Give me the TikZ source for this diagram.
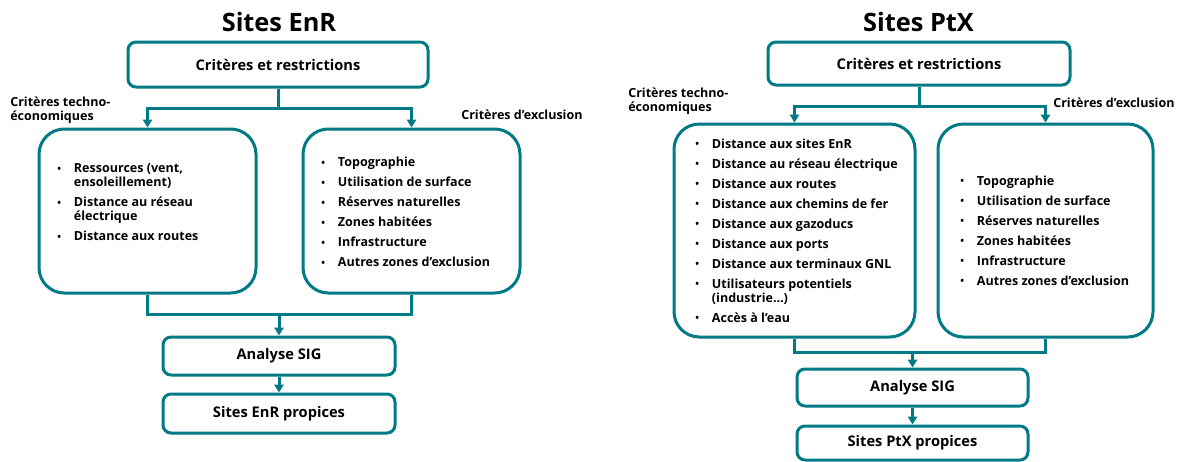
\documentclass[tikz,border=0pt]{standalone}
\usepackage{fontspec}
\setmainfont{Open Sans}
\usetikzlibrary{arrows.meta,positioning,calc}
\definecolor{tealline}{RGB}{0,122,132}
\newcommand*{\bul}{\makebox[12.5pt][l]{\raisebox{0.3pt}{\fontsize{7.5}{7.5}\selectfont\textbullet}}}
\newcommand*{\nobul}{\hphantom{\bul}}

\begin{document}
\begin{tikzpicture}[
  x=0.75pt, y=-0.75pt,
  box/.style={draw=tealline, line width=2.25pt, rounded corners=6pt, font=\bfseries\fontsize{11}{13}\selectfont},
  big/.style={draw=tealline, line width=2.25pt, rounded corners=19pt},
  lst/.style={anchor=west, align=left, inner sep=0pt, font=\bfseries\fontsize{9.4}{10.5}\selectfont},
  lab/.style={lst},
  ttl/.style={inner sep=0pt, font=\bfseries\fontsize{19}{22}\selectfont},
  line/.style={draw=tealline, line width=2.25pt},
  arr/.style={line, -{Triangle[length=6pt,width=7pt]}},
]
\useasboundingbox (0,0) rectangle (1180,461);

% Sites EnR
\node[ttl] (ttlA) at (279,22) {Sites EnR};
\node[box, minimum width=225pt, minimum height=33.75pt] (critA) at (278,64.5) {Critères et restrictions};
\node[big, minimum width=162.75pt, minimum height=123pt] (techA) at (147.5,211) {};
\node[big, minimum width=162.75pt, minimum height=123pt] (exclA) at (411.5,211) {};
\node[box, minimum width=174pt, minimum height=28.5pt] (sigA) at (279,356) {Analyse SIG};
\node[box, minimum width=174pt, minimum height=29.25pt] (propA) at (279,413.5) {Sites EnR propices};

\node[lab] (labTA) at (10,110) {Critères techno-\\économiques};
\node[lab] (labEA) at (461,115) {Critères d’exclusion};

\node[lst] (lstTA) at (57,202) {\bul Ressources (vent,\\\nobul ensoleillement)\\[4.5pt]
  \bul Distance au réseau\\\nobul électrique\\[4.5pt]
  \bul Distance aux routes};
\node[lst] (lstEA) at (321,212) {\bul Topographie\\[4.5pt]
  \bul Utilisation de surface\\[4.5pt]
  \bul Réserves naturelles\\[4.5pt]
  \bul Zones habitées\\[4.5pt]
  \bul Infrastructure\\[4.5pt]
  \bul Autres zones d’exclusion};

\coordinate (jA) at (278,108);
\coordinate (kA) at (279,314);
\draw[line] (critA) -- (jA);
\draw[arr] (jA) -| (techA);
\draw[arr] (jA) -| (exclA);
\draw[line] (techA) |- (kA) -| (exclA);
\draw[arr] (kA) -- (sigA);
\draw[arr] (sigA) -- (propA);

% Sites PtX
\node[ttl] (ttlB) at (918.5,22) {Sites PtX};
\node[box, minimum width=226.5pt, minimum height=32.25pt] (critB) at (919,63.5) {Critères et restrictions};
\node[big, minimum width=180.75pt, minimum height=159.75pt] (techB) at (794.5,230.5) {};
\node[big, minimum width=161.25pt, minimum height=159.75pt] (exclB) at (1045.5,230.5) {};
\node[box, minimum width=173.25pt, minimum height=27.75pt] (sigB) at (912.5,387.5) {Analyse SIG};
\node[box, minimum width=173.25pt, minimum height=25.5pt] (propB) at (912.5,443) {Sites PtX propices};

\node[lab] (labTB) at (628,101.5) {Critères techno-\\économiques};
\node[lab] (labEB) at (1053,103) {Critères d’exclusion};

\node[lst] (lstTB) at (695,230.5) {\bul Distance aux sites EnR\\[4.5pt]
  \bul Distance au réseau électrique\\[4.5pt]
  \bul Distance aux routes\\[4.5pt]
  \bul Distance aux chemins de fer\\[4.5pt]
  \bul Distance aux gazoducs\\[4.5pt]
  \bul Distance aux ports\\[4.5pt]
  \bul Distance aux terminaux GNL\\[4.5pt]
  \bul Utilisateurs potentiels\\\nobul (industrie…)\\[4.5pt]
  \bul Accès à l’eau};
\node[lst] (lstEB) at (960,230.5) {\bul Topographie\\[4.5pt]
  \bul Utilisation de surface\\[4.5pt]
  \bul Réserves naturelles\\[4.5pt]
  \bul Zones habitées\\[4.5pt]
  \bul Infrastructure\\[4.5pt]
  \bul Autres zones d’exclusion};

\coordinate (jB) at (919,106);
\coordinate (kB) at (912.5,352);
\draw[line] (critB) -- (jB);
\draw[arr] (jB) -| (techB);
\draw[arr] (jB) -| (exclB);
\draw[line] (techB) |- (kB) -| (exclB);
\draw[arr] (kB) -- (sigB);
\draw[arr] (sigB) -- (propB);
\end{tikzpicture}
\end{document}
